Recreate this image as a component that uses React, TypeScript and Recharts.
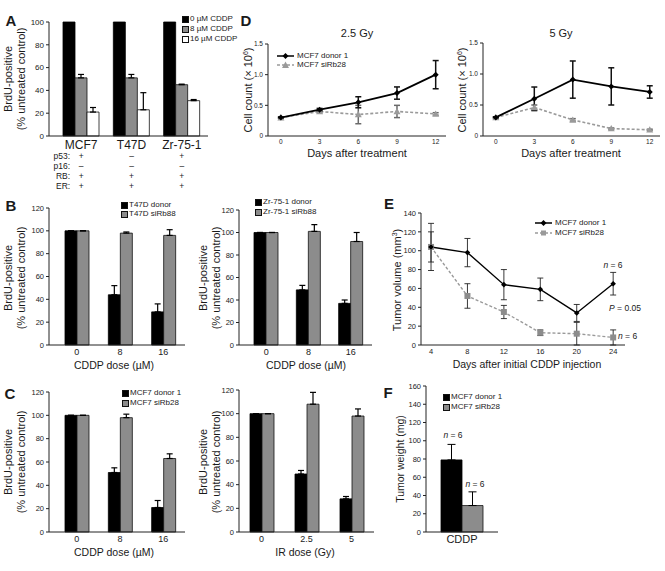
import React from "react";
import { BarChart, Bar, LineChart, Line, XAxis, YAxis, ErrorBar } from "recharts";

const FONT = '"Liberation Sans", Arial, Helvetica, sans-serif';
const INK = "#1a1a1a";
const GRAY = "#8c8c8c";
const LGRAY = "#9a9a9a";

// ---- panel A ----
const cellLines = ["MCF7", "T47D", "Zr-75-1"];
const cddp0 = [100, 100, 100];
const cddp8 = [51, 51, 45];
const cddp8Err = [3, 3, 0.5];
const cddp16 = [21, 23, 31];
const cddp16Err = [4, 15, 1];
const statusLabels = ["p53:", "p16:", "RB:", "ER:"];
const p53 = ["+", "–", "+"];
const p16 = ["–", "–", "–"];
const rb = ["+", "+", "+"];
const er = ["+", "+", "+"];
const statusValues = [p53, p16, rb, er];

// ---- panels B / C ----
const cddpDoses = ["0", "8", "16"];
const irDoses = ["0", "2.5", "5"];
const t47dDonor = [100, 44, 29];
const t47dDonorErr = [0, 8, 7];
const t47dSi = [100, 98, 96];
const t47dSiErr = [0, 1, 5];
const zrDonor = [100, 49, 37];
const zrDonorErr = [0, 4, 3];
const zrSi = [100, 101, 92];
const zrSiErr = [0, 6, 8];
const mcfCddpDonor = [100, 51, 21];
const mcfCddpDonorErr = [0, 4, 6];
const mcfCddpSi = [100, 98, 63];
const mcfCddpSiErr = [0, 3, 4];
const mcfIrDonor = [100, 49, 28];
const mcfIrDonorErr = [0, 3, 2];
const mcfIrSi = [100, 108, 98];
const mcfIrSiErr = [0, 10, 6];

// ---- panel D ----
const dDays = [0, 3, 6, 9, 12];
const gy25Donor = [0.3, 0.43, 0.55, 0.7, 1.0];
const gy25DonorErr = [0.01, 0.02, 0.09, 0.1, 0.23];
const gy25Si = [0.3, 0.4, 0.35, 0.4, 0.36];
const gy25SiErr = [0.01, 0.02, 0.15, 0.1, 0.02];
const gy5Donor = [0.3, 0.6, 0.91, 0.8, 0.71];
const gy5DonorErr = [0.01, 0.19, 0.3, 0.3, 0.1];
const gy5Si = [0.3, 0.46, 0.26, 0.12, 0.1];
const gy5SiErr = [0.01, 0.04, 0.02, 0.01, 0.01];

// ---- panel E ----
const eDays = [4, 8, 12, 16, 20, 24];
const volDonor = [104, 98, 64, 59, 34, 65];
const volDonorErr = [25, 15, 16, 12, 9, 12];
const volSi = [104, 52, 35, 13, 12, 8];
const volSiErr = [16, 13, 7, 3, 12, 8];

// ---- panel F ----
const fGroups = ["CDDP"];
const weightDonor = [79];
const weightDonorErr = [17];
const weightSi = [29];
const weightSiErr = [15];

const pairRows = (cats: string[], a: number[], ae: number[], b: number[], be: number[]) =>
  cats.map((c, i) => ({ cat: c, a: a[i], ae: [0, ae[i]], b: b[i], be: [0, be[i]] }));

const lineRows = (days: number[], a: number[], ae: number[], b: number[], be: number[]) =>
  days.map((d, i) => ({ day: d, a: a[i], ae: ae[i], b: b[i], be: be[i] }));

type Rect = { x0: number; x1: number; y0: number; y1: number };
const YW = 30;
const MT = 8;
const MR = 4;

const Frame = ({ r, xh, children }: { r: Rect; xh: number; children: (w: number, h: number) => React.ReactNode }) => {
  const w = r.x1 - r.x0 + YW + MR;
  const h = r.y1 - r.y0 + MT + xh;
  return (
    <div style={{ position: "absolute", left: r.x0 - YW, top: r.y0 - MT, width: w, height: h }}>
      {children(w, h)}
    </div>
  );
};

const margin = { top: MT, right: MR, left: 0, bottom: 0 };
const axisLine = { stroke: "#222", strokeWidth: 1 };

const T = ({
  x, y, children, size = 11, anchor = "middle", rot = false, weight = 400,
}: {
  x: number; y: number; children: React.ReactNode; size?: number; anchor?: string; rot?: boolean; weight?: number;
}) => {
  const tx = anchor === "start" ? "0" : anchor === "end" ? "-100%" : "-50%";
  return (
    <div
      style={{
        position: "absolute",
        left: x,
        top: y,
        transform: `translate(${tx},-50%)${rot ? " rotate(-90deg)" : ""}`,
        fontSize: size,
        lineHeight: 1,
        whiteSpace: "nowrap",
        fontWeight: weight,
        color: INK,
      }}
    >
      {children}
    </div>
  );
};

const Box = ({ x, y, fill }: { x: number; y: number; fill: string }) => (
  <div
    style={{
      position: "absolute", left: x, top: y - 3, width: 5, height: 5,
      background: fill, border: "0.8px solid #111",
    }}
  />
);

const LineKey = ({ x, y, dashed, color, marker }: { x: number; y: number; dashed: boolean; color: string; marker: string }) => (
  <svg style={{ position: "absolute", left: x, top: y - 4 }} width={18} height={8}>
    <line x1={0} y1={4} x2={17} y2={4} stroke={color} strokeWidth={1.5} strokeDasharray={dashed ? "3 2" : undefined} />
    {marker === "diamond" && <path d="M8.5,1L11.5,4L8.5,7L5.5,4Z" fill={color} />}
    {marker === "tri" && <path d="M8.5,0.5L12,7L5,7Z" fill={color} />}
    {marker === "square" && <rect x={6} y={1.5} width={5} height={5} fill={color} />}
  </svg>
);

const diamond = (fill: string, s: number) => (p: any) => (
  <path key={`dm${p.index}`} d={`M${p.cx},${p.cy - s}L${p.cx + s},${p.cy}L${p.cx},${p.cy + s}L${p.cx - s},${p.cy}Z`} fill={fill} />
);
const triangle = (fill: string, s: number) => (p: any) => (
  <path key={`tr${p.index}`} d={`M${p.cx},${p.cy - s}L${p.cx + s},${p.cy + s * 0.8}L${p.cx - s},${p.cy + s * 0.8}Z`} fill={fill} />
);
const square = (fill: string, s: number) => (p: any) => (
  <rect key={`sq${p.index}`} x={p.cx - s} y={p.cy - s} width={2 * s} height={2 * s} fill={fill} />
);

const ATick = (p: any) => {
  const i = p.payload.index ?? cellLines.indexOf(p.payload.value);
  return (
    <g>
      <text x={p.x} y={p.y + 13} textAnchor="middle" fontSize={12} fill={INK} fontFamily={FONT}>
        {p.payload.value}
      </text>
      {statusValues.map((vals, r) => (
        <text key={`v${r}`} x={p.x} y={p.y + 23 + r * 10} textAnchor="middle" fontSize={8.5} fill={INK} fontFamily={FONT}>
          {vals[i]}
        </text>
      ))}
      {i === 0 &&
        statusLabels.map((lab, r) => (
          <text key={`l${r}`} x={p.x - 11} y={p.y + 23 + r * 10} textAnchor="end" fontSize={8.5} fill={INK} fontFamily={FONT}>
            {lab}
          </text>
        ))}
    </g>
  );
};

const yTick = { fontSize: 7.5, fill: INK, fontFamily: FONT };

const PairBars = ({ r, rows, pad }: { r: Rect; rows: any[]; pad: number }) => (
  <Frame r={r} xh={20}>
    {(w, h) => (
      <BarChart width={w} height={h} data={rows} margin={margin} barGap={0} barSize={12}>
        <XAxis
          dataKey="cat"
          height={20}
          padding={{ left: pad, right: 0 }}
          axisLine={axisLine}
          tickLine={false}
          tickSize={0}
          tickMargin={4}
          tick={{ fontSize: 9, fill: INK, fontFamily: FONT }}
        />
        <YAxis
          width={YW}
          domain={[0, 120]}
          ticks={[0, 20, 40, 60, 80, 100, 120]}
          interval={0}
          axisLine={axisLine}
          tickSize={3}
          tickMargin={2}
          tickLine={{ stroke: "#222" }}
          tick={yTick}
        />
        <Bar dataKey="a" fill="#000" stroke="#000" strokeWidth={0.8} isAnimationActive={false}>
          <ErrorBar dataKey="ae" width={3} stroke="#000" strokeWidth={1.2} />
        </Bar>
        <Bar dataKey="b" fill={GRAY} stroke="#111" strokeWidth={0.8} isAnimationActive={false}>
          <ErrorBar dataKey="be" width={3} stroke="#000" strokeWidth={1.2} />
        </Bar>
      </BarChart>
    )}
  </Frame>
);

const CellCount = ({ r, rows }: { r: Rect; rows: any[] }) => (
  <Frame r={r} xh={16}>
    {(w, h) => (
      <LineChart width={w} height={h} data={rows} margin={margin}>
        <XAxis
          dataKey="day"
          type="number"
          domain={[-1, 12.8]}
          ticks={dDays}
          interval={0}
          height={16}
          axisLine={axisLine}
          tickLine={false}
          tickSize={0}
          tickMargin={3}
          tick={{ fontSize: 6.5, fill: INK, fontFamily: FONT }}
        />
        <YAxis
          width={YW}
          domain={[0, 1.5]}
          ticks={[0, 0.5, 1, 1.5]}
          tickFormatter={(v: number) => (v === 0 ? "0" : v.toFixed(1))}
          interval={0}
          axisLine={axisLine}
          tickSize={3}
          tickMargin={2}
          tickLine={{ stroke: "#222" }}
          tick={{ fontSize: 6.5, fill: INK, fontFamily: FONT }}
        />
        <Line dataKey="b" stroke={LGRAY} strokeWidth={1.6} strokeDasharray="3 2" dot={triangle(LGRAY, 3.5)} isAnimationActive={false}>
          <ErrorBar dataKey="be" width={3} stroke="#6a6a6a" strokeWidth={1.5} />
        </Line>
        <Line dataKey="a" stroke="#000" strokeWidth={1.8} dot={diamond("#000", 3)} isAnimationActive={false}>
          <ErrorBar dataKey="ae" width={3} stroke="#111" strokeWidth={1.5} />
        </Line>
      </LineChart>
    )}
  </Frame>
);

const rA: Rect = { x0: 49, x1: 208, y0: 22, y1: 136 };
const rD1: Rect = { x0: 268, x1: 446, y0: 44, y1: 136 };
const rD2: Rect = { x0: 483, x1: 660, y0: 43, y1: 136 };
const rB1: Rect = { x0: 49, x1: 185, y0: 208, y1: 345 };
const rB2: Rect = { x0: 239, x1: 372, y0: 210, y1: 345 };
const rC1: Rect = { x0: 49, x1: 185, y0: 392, y1: 532 };
const rC2: Rect = { x0: 239, x1: 374, y0: 390, y1: 532 };
const rE: Rect = { x0: 421, x1: 625, y0: 213, y1: 345 };
const rF: Rect = { x0: 426, x1: 498, y0: 386, y1: 532 };

const BrdULabel = ({ x, y }: { x: number; y: number }) => (
  <>
    <T x={x} y={y} rot size={11}>BrdU-positive</T>
    <T x={x + 13} y={y} rot size={11}>(% untreated control)</T>
  </>
);

const LEG = 8;

export default function App() {
  const aRows = cellLines.map((c, i) => ({
    cat: c, c0: cddp0[i], c8: cddp8[i], c8e: [0, cddp8Err[i]], c16: cddp16[i], c16e: [0, cddp16Err[i]],
  }));
  const eRows = lineRows(eDays, volDonor, volDonorErr, volSi, volSiErr);
  const fRows = pairRows(fGroups, weightDonor, weightDonorErr, weightSi, weightSiErr);

  return (
    <div
      style={{
        position: "absolute", left: 0, top: 0, width: 665, height: 571, overflow: "hidden",
        background: "#fff", fontFamily: FONT, color: INK,
      }}
    >
      {/* panel letters */}
      <T x={11} y={20} size={15} weight={700}>A</T>
      <T x={11} y={205} size={15} weight={700}>B</T>
      <T x={10} y={393} size={15} weight={700}>C</T>
      <T x={246} y={20} size={15} weight={700}>D</T>
      <T x={389} y={203} size={15} weight={700}>E</T>
      <T x={388} y={392} size={15} weight={700}>F</T>

      {/* A */}
      <Frame r={rA} xh={59}>
        {(w, h) => (
          <BarChart width={w} height={h} data={aRows} margin={margin} barGap={0} barSize={12}>
            <XAxis
              dataKey="cat"
              height={59}
              padding={{ left: 7, right: 1 }}
              axisLine={axisLine}
              tickLine={false}
              tickSize={0}
              tickMargin={0}
              tick={ATick}
            />
            <YAxis
              width={YW}
              domain={[0, 100]}
              ticks={[0, 20, 40, 60, 80, 100]}
              interval={0}
              axisLine={axisLine}
              tickSize={3}
              tickMargin={2}
              tickLine={{ stroke: "#222" }}
              tick={{ fontSize: 8, fill: INK, fontFamily: FONT }}
            />
            <Bar dataKey="c0" fill="#000" stroke="#000" strokeWidth={0.8} isAnimationActive={false} />
            <Bar dataKey="c8" fill={GRAY} stroke="#111" strokeWidth={0.8} isAnimationActive={false}>
              <ErrorBar dataKey="c8e" width={3} stroke="#000" strokeWidth={1.2} />
            </Bar>
            <Bar dataKey="c16" fill="#fff" stroke="#111" strokeWidth={0.8} isAnimationActive={false}>
              <ErrorBar dataKey="c16e" width={3} stroke="#000" strokeWidth={1.2} />
            </Bar>
          </BarChart>
        )}
      </Frame>
      <BrdULabel x={8} y={79} />
      <Box x={182} y={19} fill="#000" />
      <Box x={182} y={29} fill={GRAY} />
      <Box x={182} y={39} fill="#fff" />
      <T x={190} y={19} size={LEG} anchor="start">0 µM CDDP</T>
      <T x={190} y={29} size={LEG} anchor="start">8 µM CDDP</T>
      <T x={190} y={39} size={LEG} anchor="start">16 µM CDDP</T>

      {/* D */}
      <CellCount r={rD1} rows={lineRows(dDays, gy25Donor, gy25DonorErr, gy25Si, gy25SiErr)} />
      <CellCount r={rD2} rows={lineRows(dDays, gy5Donor, gy5DonorErr, gy5Si, gy5SiErr)} />
      <T x={357} y={33} size={11}>2.5 Gy</T>
      <T x={561} y={33} size={11}>5 Gy</T>
      <T x={248} y={90} rot size={11}>Cell count (× 10<sup style={{ fontSize: 7 }}>6</sup>)</T>
      <T x={462} y={90} rot size={11}>Cell count (× 10<sup style={{ fontSize: 7 }}>6</sup>)</T>
      <T x={357} y={153} size={11}>Days after treatment</T>
      <T x={571} y={153} size={11}>Days after treatment</T>
      <LineKey x={277} y={56} dashed={false} color="#000" marker="diamond" />
      <LineKey x={277} y={65} dashed color={LGRAY} marker="tri" />
      <T x={297} y={56} size={LEG} anchor="start">MCF7 donor 1</T>
      <T x={297} y={65} size={LEG} anchor="start">MCF7 siRb28</T>

      {/* B */}
      <PairBars r={rB1} rows={pairRows(cddpDoses, t47dDonor, t47dDonorErr, t47dSi, t47dSiErr)} pad={6} />
      <PairBars r={rB2} rows={pairRows(cddpDoses, zrDonor, zrDonorErr, zrSi, zrSiErr)} pad={6} />
      <BrdULabel x={8} y={278} />
      <BrdULabel x={203} y={278} />
      <T x={114} y={365} size={10.5}>CDDP dose (µM)</T>
      <T x={306} y={365} size={10.5}>CDDP dose (µM)</T>
      <Box x={121} y={205} fill="#000" />
      <Box x={121} y={214} fill={GRAY} />
      <T x={129} y={205} size={LEG} anchor="start">T47D donor</T>
      <T x={129} y={214} size={LEG} anchor="start">T47D siRb88</T>
      <Box x={255} y={202} fill="#000" />
      <Box x={255} y={212} fill={GRAY} />
      <T x={263} y={202} size={LEG} anchor="start">Zr-75-1 donor</T>
      <T x={263} y={212} size={LEG} anchor="start">Zr-75-1 siRb88</T>

      {/* C */}
      <PairBars r={rC1} rows={pairRows(cddpDoses, mcfCddpDonor, mcfCddpDonorErr, mcfCddpSi, mcfCddpSiErr)} pad={6} />
      <PairBars r={rC2} rows={pairRows(irDoses, mcfIrDonor, mcfIrDonorErr, mcfIrSi, mcfIrSiErr)} pad={0} />
      <BrdULabel x={8} y={462} />
      <BrdULabel x={203} y={462} />
      <T x={114} y={552} size={10.5}>CDDP dose (µM)</T>
      <T x={305} y={552} size={10.5}>IR dose (Gy)</T>
      <Box x={122} y={393} fill="#000" />
      <Box x={122} y={403} fill={GRAY} />
      <T x={130} y={393} size={LEG} anchor="start">MCF7 donor 1</T>
      <T x={130} y={403} size={LEG} anchor="start">MCF7 siRb28</T>

      {/* E */}
      <Frame r={rE} xh={18}>
        {(w, h) => (
          <LineChart width={w} height={h} data={eRows} margin={margin}>
            <XAxis
              dataKey="day"
              type="number"
              domain={[2.9, 25.3]}
              ticks={eDays}
              interval={0}
              height={18}
              axisLine={axisLine}
              tickLine={false}
              tickSize={0}
              tickMargin={4}
              tick={{ fontSize: 7.5, fill: INK, fontFamily: FONT }}
            />
            <YAxis
              width={YW}
              domain={[0, 140]}
              ticks={[0, 20, 40, 60, 80, 100, 120, 140]}
              interval={0}
              axisLine={axisLine}
              tickSize={3}
              tickMargin={2}
              tickLine={{ stroke: "#222" }}
              tick={yTick}
            />
            <Line dataKey="b" stroke={LGRAY} strokeWidth={1.4} strokeDasharray="3 2" dot={square(GRAY, 3)} isAnimationActive={false}>
              <ErrorBar dataKey="be" width={3} stroke="#222" strokeWidth={0.9} />
            </Line>
            <Line dataKey="a" stroke="#000" strokeWidth={1.4} dot={diamond("#000", 2.8)} isAnimationActive={false}>
              <ErrorBar dataKey="ae" width={3} stroke="#222" strokeWidth={0.9} />
            </Line>
          </LineChart>
        )}
      </Frame>
      <T x={397} y={280} rot size={11}>Tumor volume (mm<sup style={{ fontSize: 7 }}>3</sup>)</T>
      <T x={527} y={364} size={10.5}>Days after initial CDDP injection</T>
      <LineKey x={535} y={223} dashed={false} color="#000" marker="diamond" />
      <LineKey x={535} y={233} dashed color={LGRAY} marker="square" />
      <T x={555} y={223} size={LEG} anchor="start">MCF7 donor 1</T>
      <T x={555} y={233} size={LEG} anchor="start">MCF7 siRb28</T>
      <T x={613} y={265} size={8.5}><i>n</i> = 6</T>
      <T x={625} y={308} size={8.5}><i>P</i> = 0.05</T>
      <T x={618} y={336} size={8.5} anchor="start"><i>n</i> = 6</T>

      {/* F */}
      <Frame r={rF} xh={20}>
        {(w, h) => (
          <BarChart width={w} height={h} data={fRows} margin={margin} barGap={0} barSize={21}>
            <XAxis
              dataKey="cat"
              height={20}
              axisLine={axisLine}
              tickLine={false}
              tickSize={0}
              tickMargin={3}
              tick={{ fontSize: 11, fill: INK, fontFamily: FONT }}
            />
            <YAxis
              width={YW}
              domain={[0, 160]}
              ticks={[0, 20, 40, 60, 80, 100, 120, 140, 160]}
              interval={0}
              axisLine={axisLine}
              tickSize={3}
              tickMargin={2}
              tickLine={{ stroke: "#222" }}
              tick={yTick}
            />
            <Bar dataKey="a" fill="#000" stroke="#000" strokeWidth={0.8} isAnimationActive={false}>
              <ErrorBar dataKey="ae" width={4} stroke="#000" strokeWidth={1} />
            </Bar>
            <Bar dataKey="b" fill={GRAY} stroke="#111" strokeWidth={0.8} isAnimationActive={false}>
              <ErrorBar dataKey="be" width={4} stroke="#000" strokeWidth={1} />
            </Bar>
          </BarChart>
        )}
      </Frame>
      <T x={400} y={459} rot size={10.5}>Tumor weight (mg)</T>
      <Box x={443} y={397} fill="#000" />
      <Box x={443} y={407} fill={GRAY} />
      <T x={451} y={397} size={LEG} anchor="start">MCF7 donor 1</T>
      <T x={451} y={407} size={LEG} anchor="start">MCF7 siRb28</T>
      <T x={453} y={435} size={8.5}><i>n</i> = 6</T>
      <T x={475} y={484} size={8.5}><i>n</i> = 6</T>
    </div>
  );
}
